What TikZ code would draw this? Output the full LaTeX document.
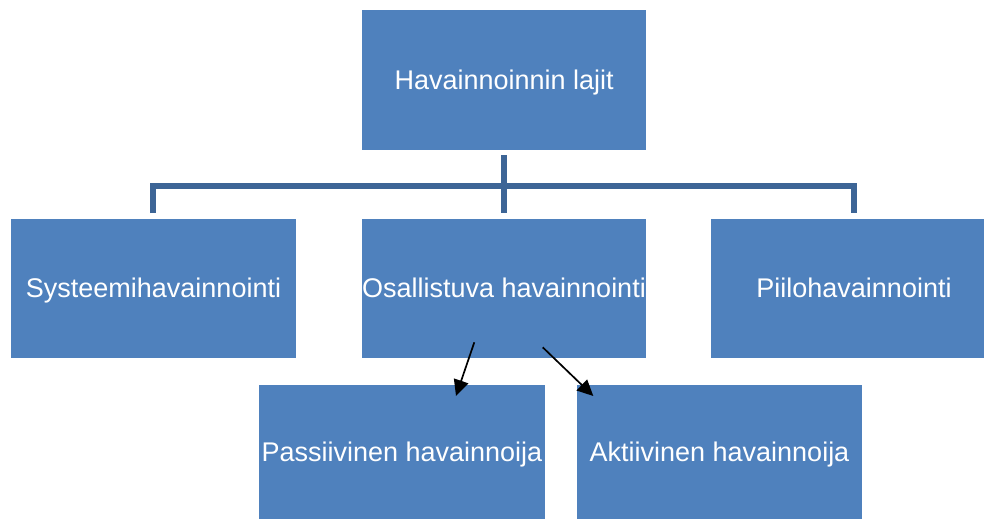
\documentclass[tikz,border=0pt]{standalone}
\usepackage{fontspec}
\setmainfont{Liberation Sans}
\usetikzlibrary{arrows.meta}
\definecolor{boxblue}{HTML}{4F81BD}
\definecolor{connblue}{HTML}{3D6596}
\tikzset{
  box/.style={draw=none, fill=boxblue, text=white, inner sep=0pt,
    font=\fontsize{27}{32}\selectfont, text height=19.3pt, text depth=0pt, align=center},
  conn/.style={draw=connblue, line width=6pt, line join=miter, line cap=butt},
  arr/.style={draw=black, line width=1.7pt, -{Triangle[length=16pt,width=15pt]}}
}
\begin{document}
\begin{tikzpicture}[x=1pt,y=-1pt]
\useasboundingbox (0,0) rectangle (984,520);
\clip (0,0) rectangle (984,520);
\node[box, minimum width=284.5pt, minimum height=140pt] (top) at (504.2,80) {Havainnoinnin lajit};
\node[box, minimum width=285pt, minimum height=138.7pt] (sys) at (153.5,288.3) {Systeemihavainnointi};
\node[box, minimum width=284pt, minimum height=138.7pt] (osa) at (504,288.3) {Osallistuva havainnointi};
\node[box, minimum width=286pt, minimum height=138.7pt] (pii) at (854,288.3) {Piilohavainnointi};
\node[box, minimum width=286pt, minimum height=134.3pt] (pas) at (402,452.1) {Passiivinen havainnoija};
\node[box, minimum width=285pt, minimum height=134.3pt] (akt) at (719.5,452.1) {Aktiivinen havainnoija};
% connector coordinates
\coordinate (t1) at (503.5,155);
\coordinate (hl) at (153,186);
\coordinate (hr) at (854,186);
\coordinate (e1) at (153,213);
\coordinate (e2) at (503.5,213);
\coordinate (e3) at (854,213);
\draw[conn] (e1) -- (hl) -- (hr) -- (e3);
\draw[conn] (t1) -- (e2);
% arrows
\coordinate (a1s) at (474.3,342.3);
\coordinate (a1e) at (456,396);
\coordinate (a2s) at (542.7,347.3);
\coordinate (a2e) at (593.3,396);
\draw[arr] (a1s) -- (a1e);
\draw[arr] (a2s) -- (a2e);
\end{tikzpicture}
\end{document}
